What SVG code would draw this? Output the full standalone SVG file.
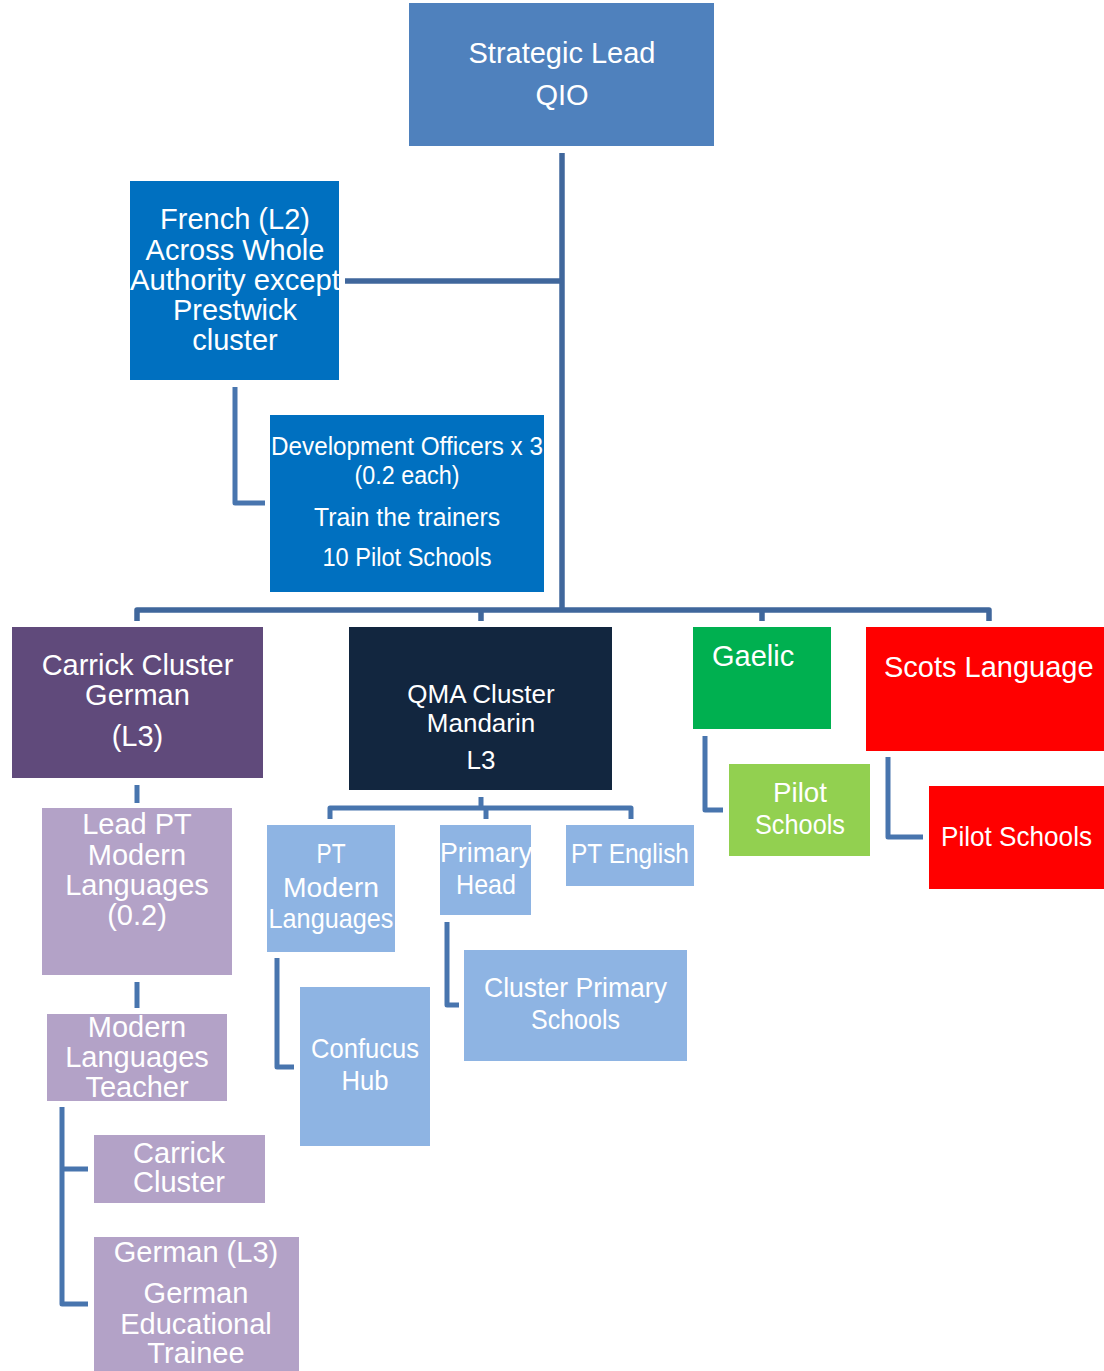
<svg xmlns="http://www.w3.org/2000/svg" width="1104" height="1371" viewBox="0 0 1104 1371">
<style>
text{font-family:"Liberation Sans",Arial,sans-serif;fill:#fff;text-anchor:middle}
.a{font-size:29px}
.q{font-size:26px}
.n{font-size:28px}
.d{font-size:25px}
.s{text-anchor:start}
.c1{fill:none;stroke:#40679C;stroke-width:5.5;stroke-linejoin:round}
.c2{fill:none;stroke:#4875AE;stroke-width:5;stroke-linejoin:round}
</style>
<rect width="1104" height="1371" fill="#fff"/>
<g id="connectors">
<path class="c1" d="M562,153 V610"/>
<path class="c1" d="M345,281 H562"/>
<path class="c1" d="M137,621 V610 H989 V621"/>
<path class="c1" d="M481,610 V621"/>
<path class="c1" d="M762,610 V621"/>
<path class="c2" d="M235,387 V503 H265"/>
<path class="c2" d="M137,785 V803"/>
<path class="c2" d="M137,982 V1008"/>
<path class="c2" d="M88,1169 H62 M62,1107 V1304 H88"/>
<path class="c2" d="M481,797 V808"/>
<path class="c2" d="M330,819 V808 H631 V819"/>
<path class="c2" d="M486,808 V819"/>
<path class="c2" d="M277,958 V1067 H294"/>
<path class="c2" d="M447,922 V1005 H459"/>
<path class="c2" d="M705,736 V810 H723"/>
<path class="c2" d="M888,757 V837 H923"/>
</g>
<g id="strategic-lead">
<rect x="409" y="3" width="305" height="143" fill="#4F81BD"/>
<text class="a" x="562" y="63">Strategic Lead</text>
<text class="a" x="562" y="105">QIO</text>
</g>
<g id="french">
<rect x="130" y="181" width="209" height="199" fill="#0070C0"/>
<text class="a" x="235" y="229">French (L2)</text>
<text class="a" x="235" y="260">Across Whole</text>
<text class="a" x="235" y="290" textLength="210" lengthAdjust="spacingAndGlyphs">Authority except</text>
<text class="a" x="235" y="320">Prestwick</text>
<text class="a" x="235" y="350">cluster</text>
</g>
<g id="dev-officers">
<rect x="270" y="415" width="274" height="177" fill="#0070C0"/>
<text class="d" x="407" y="455" textLength="272" lengthAdjust="spacingAndGlyphs">Development Officers x 3</text>
<text class="d" x="407" y="484" textLength="105" lengthAdjust="spacingAndGlyphs">(0.2 each)</text>
<text class="d" x="407" y="526" textLength="186" lengthAdjust="spacingAndGlyphs">Train the trainers</text>
<text class="d" x="407" y="566" textLength="169" lengthAdjust="spacingAndGlyphs">10 Pilot Schools</text>
</g>
<g id="carrick-german">
<rect x="12" y="627" width="251" height="151" fill="#604A7B"/>
<text class="a" x="137.5" y="675">Carrick Cluster</text>
<text class="a" x="137.5" y="705">German</text>
<text class="a" x="137.5" y="746">(L3)</text>
</g>
<g id="qma">
<rect x="349" y="627" width="263" height="163" fill="#12263F"/>
<text class="q" x="481" y="703">QMA Cluster</text>
<text class="q" x="481" y="732">Mandarin</text>
<text class="q" x="481" y="769">L3</text>
</g>
<g id="gaelic">
<rect x="693" y="627" width="138" height="102" fill="#00B050"/>
<text class="a s" x="712" y="666">Gaelic</text>
</g>
<g id="scots">
<rect x="866" y="627" width="238" height="124" fill="#FF0000"/>
<text class="a s" x="884" y="677">Scots Language</text>
</g>
<g id="gaelic-pilot">
<rect x="729" y="764" width="141" height="92" fill="#92D050"/>
<text class="n" x="800" y="802" textLength="54" lengthAdjust="spacingAndGlyphs">Pilot</text>
<text class="n" x="800" y="834" textLength="90" lengthAdjust="spacingAndGlyphs">Schools</text>
</g>
<g id="scots-pilot">
<rect x="929" y="786" width="175" height="103" fill="#FF0000"/>
<text class="n" x="1016.5" y="846" textLength="151" lengthAdjust="spacingAndGlyphs">Pilot Schools</text>
</g>
<g id="lead-pt">
<rect x="42" y="808" width="190" height="167" fill="#B3A2C7"/>
<text class="a" x="137" y="834">Lead PT</text>
<text class="a" x="137" y="865">Modern</text>
<text class="a" x="137" y="895">Languages</text>
<text class="a" x="137" y="925">(0.2)</text>
</g>
<g id="ml-teacher">
<rect x="47" y="1014" width="180" height="87" fill="#B3A2C7"/>
<text class="a" x="137" y="1037">Modern</text>
<text class="a" x="137" y="1067">Languages</text>
<text class="a" x="137" y="1097">Teacher</text>
</g>
<g id="carrick-cluster">
<rect x="94" y="1135" width="171" height="68" fill="#B3A2C7"/>
<text class="a" x="179" y="1163">Carrick</text>
<text class="a" x="179" y="1192">Cluster</text>
</g>
<g id="german-trainee">
<rect x="94" y="1237" width="205" height="140" fill="#B3A2C7"/>
<text class="a" x="196" y="1262">German (L3)</text>
<text class="a" x="196" y="1303">German</text>
<text class="a" x="196" y="1334">Educational</text>
<text class="a" x="196" y="1363">Trainee</text>
</g>
<g id="pt-ml">
<rect x="267" y="825" width="128" height="127" fill="#8EB4E3"/>
<text class="n" x="331" y="863" textLength="29" lengthAdjust="spacingAndGlyphs">PT</text>
<text class="n" x="331" y="897" textLength="96" lengthAdjust="spacingAndGlyphs">Modern</text>
<text class="n" x="331" y="928" textLength="125" lengthAdjust="spacingAndGlyphs">Languages</text>
</g>
<g id="primary-head">
<rect x="440" y="825" width="91" height="90" fill="#8EB4E3"/>
<text class="n" x="486" y="862" textLength="92" lengthAdjust="spacingAndGlyphs">Primary</text>
<text class="n" x="486" y="894" textLength="60" lengthAdjust="spacingAndGlyphs">Head</text>
</g>
<g id="pt-english">
<rect x="566" y="825" width="128" height="61" fill="#8EB4E3"/>
<text class="n" x="630" y="863" textLength="118" lengthAdjust="spacingAndGlyphs">PT English</text>
</g>
<g id="confucus">
<rect x="300" y="987" width="130" height="159" fill="#8EB4E3"/>
<text class="n" x="365" y="1058" textLength="108" lengthAdjust="spacingAndGlyphs">Confucus</text>
<text class="n" x="365" y="1090" textLength="47" lengthAdjust="spacingAndGlyphs">Hub</text>
</g>
<g id="cluster-primary">
<rect x="464" y="950" width="223" height="111" fill="#8EB4E3"/>
<text class="n" x="575.5" y="997" textLength="183" lengthAdjust="spacingAndGlyphs">Cluster Primary</text>
<text class="n" x="575.5" y="1029" textLength="89" lengthAdjust="spacingAndGlyphs">Schools</text>
</g>
</svg>
